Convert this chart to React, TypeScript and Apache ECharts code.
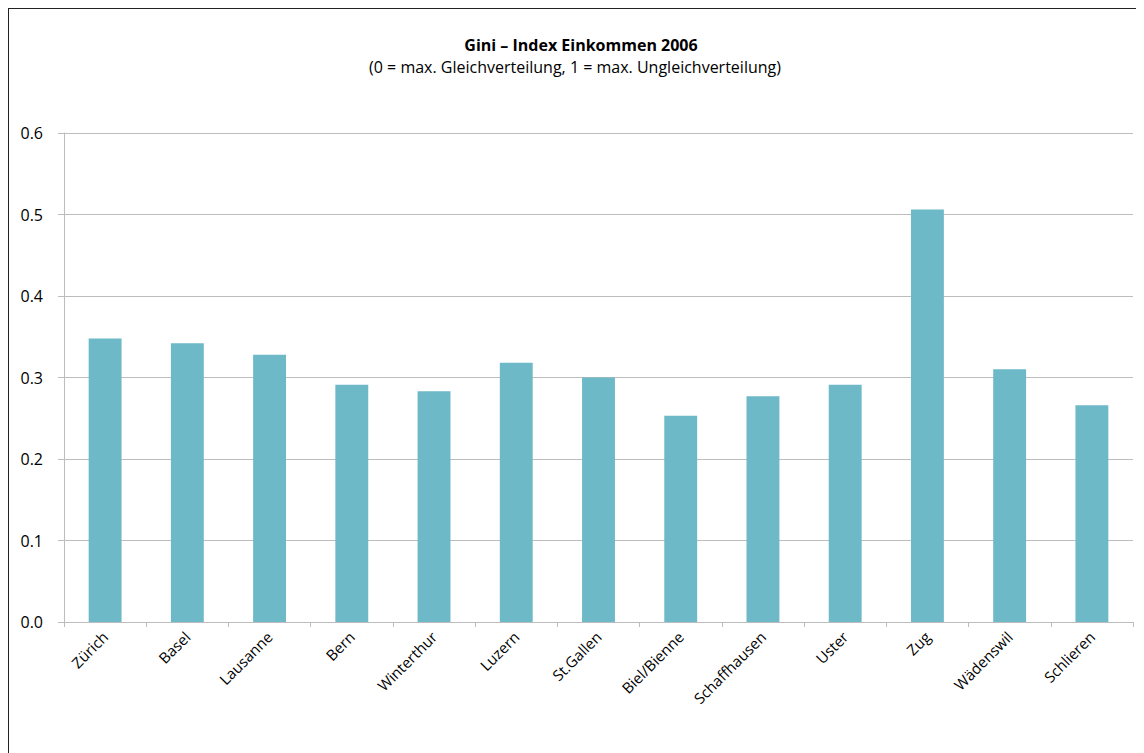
import React, { useEffect, useRef } from "react";
import * as echarts from "echarts";

const categories = ["Zürich", "Basel", "Lausanne", "Bern", "Winterthur", "Luzern", "St.Gallen", "Biel/Bienne", "Schaffhausen", "Uster", "Zug", "Wädenswil", "Schlieren"];
const giniValues = [0.348, 0.342, 0.328, 0.291, 0.283, 0.318, 0.300, 0.253, 0.277, 0.291, 0.506, 0.310, 0.266];
const titleText = "Gini – Index Einkommen 2006";
const subtitleText = "(0 = max. Gleichverteilung, 1 = max. Ungleichverteilung)";

const FONT = "'Open Sans', 'Noto Sans', sans-serif";

export default function App() {
  const ref = useRef<HTMLDivElement>(null);
  useEffect(() => {
    if (!ref.current) return;
    const chart = echarts.init(ref.current, null, { renderer: "svg" });
    chart.setOption({
      animation: false,
      title: [
        {
          text: titleText,
          left: 572,
          textAlign: "center",
          top: 28,
          padding: 0,
          textStyle: { fontFamily: FONT, fontSize: 16, lineHeight: 16, fontWeight: "bold", color: "#000" },
        },
        {
          text: subtitleText,
          left: 566,
          textAlign: "center",
          top: 50,
          padding: 0,
          textStyle: { fontFamily: FONT, fontSize: 16, lineHeight: 16, fontWeight: "normal", color: "#000" },
        },
      ],
      grid: { left: 55, right: 11, top: 124, bottom: 131, containLabel: false },
      xAxis: {
        type: "category",
        data: categories,
        axisLine: { lineStyle: { color: "#BDBDBD", width: 1 } },
        axisTick: { show: true, length: 5, lineStyle: { color: "#BDBDBD" } },
        axisLabel: { rotate: 45, margin: 12, fontFamily: FONT, fontSize: 15, color: "#000", interval: 0 },
      },
      yAxis: {
        type: "value",
        min: 0,
        max: 0.6,
        interval: 0.1,
        axisLine: { show: true, lineStyle: { color: "#BDBDBD", width: 1 } },
        axisTick: { show: true, length: 6, lineStyle: { color: "#BDBDBD" } },
        splitLine: { lineStyle: { color: "#BDBDBD", width: 1 } },
        axisLabel: { formatter: (v: number) => v.toFixed(1), margin: 21, fontFamily: FONT, fontSize: 16, color: "#000" },
      },
      series: [
        {
          type: "bar",
          data: giniValues,
          barWidth: "40%",
          itemStyle: { color: "#6DB9C8" },
        },
      ],
    });
    return () => chart.dispose();
  }, []);
  return (
    <div style={{ borderTop: "1px solid #222", borderLeft: "1px solid #222", width: 1136, height: 744 }}>
      <div ref={ref} style={{ width: 1135, height: 744 }} />
    </div>
  );
}
